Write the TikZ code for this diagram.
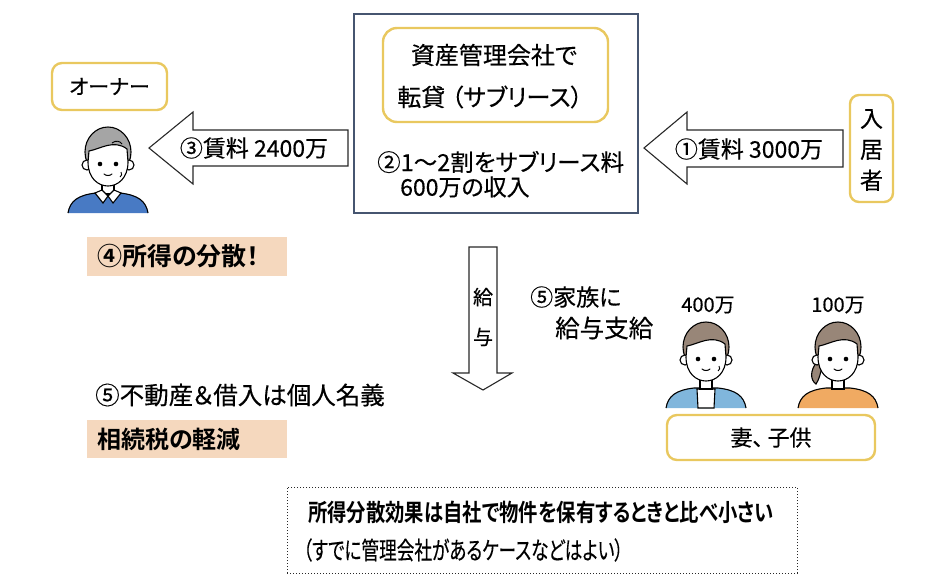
\documentclass[tikz,border=0pt]{standalone}
\usepackage{graphicx}
\usepackage{fontspec}
\setmainfont{Noto Sans CJK JP}[BoldFont={Noto Sans CJK JP Bold},RawFeature=+palt,UprightFeatures={FakeBold=0.35}]
\newcommand\myfs[1]{\fontsize{#1}{#1}\selectfont}
\definecolor{goldc}{RGB}{233,200,95}
\definecolor{boxblue}{RGB}{70,85,112}
\definecolor{peachc}{RGB}{245,216,190}
\definecolor{ownerblue}{RGB}{72,122,196}
\definecolor{grayhair}{RGB}{165,165,165}
\definecolor{brownhair}{RGB}{152,134,120}
\definecolor{lightblue}{RGB}{128,182,220}
\definecolor{orangec}{RGB}{240,170,98}
\definecolor{linec}{RGB}{40,40,40}
\begin{document}
\begin{tikzpicture}[x=1pt,y=-1pt,
  goldbox/.style={draw=goldc,line width=2.4pt,rounded corners=10pt,fill=white,inner sep=0pt},
  peachbox/.style={fill=peachc,inner sep=0pt},
  blockarrow/.style={draw=linec,line width=1.1pt,fill=white,line join=miter},
  txt/.style={inner sep=0pt,text=black},
  ink/.style={draw=black,line width=1.1pt},
  pics/head/.style={code={
    \fill[#1,ink] (0,25) ellipse [x radius=23,y radius=25];
    \fill[white,ink] (-21,38) circle [radius=5];
    \fill[white,ink] (21,38) circle [radius=5];
    \fill[white,ink] (-19,24) .. controls (-8,22) and (6,12) .. (19,22) -- (20,35) .. controls (20,51) and (10,59) .. (0,59) .. controls (-10,59) and (-20,51) .. (-20,35) -- cycle;
    \fill[black] (-8,37) circle [radius=2.3];
    \fill[black] (8,37) circle [radius=2.3];
    \draw[black,line width=1pt,line cap=round] (-4,47) .. controls (-2,49) and (2,49) .. (4,47);
  }}
]
\useasboundingbox (0,0) rectangle (952,584);

% ---------- owner ----------
\node[goldbox,minimum width=115pt,minimum height=47pt] (ownerlbl) at (109.5,86.5) {};
\node[txt,font=\myfs{21}] (ownertxt) at (ownerlbl.center) {オーナー};
\begin{scope}[shift={(108,127)}]
  \fill[ownerblue,ink] (-40,86) .. controls (-38,74) and (-30,68) .. (-12,66) -- (12,66) .. controls (30,68) and (38,74) .. (40,86);
  \fill[white,ink] (-6,54) rectangle (6,67);
  \fill[white,ink] (-13,66) -- (-5,76) -- (0,69) -- (5,76) -- (13,66) -- (6,63) -- (0,69) -- (-6,63) -- cycle;
  \pic {head=grayhair};
  \draw[black,line width=0.9pt] (4,16) .. controls (8,13) and (12,14) .. (14,17);
  \draw[black,line width=0.9pt] (13,45) .. controls (14,47) and (14,49) .. (12,50);
\end{scope}

% ---------- central box ----------
\node[draw=boxblue,line width=1.8pt,fill=white,minimum width=284pt,minimum height=199pt,inner sep=0pt] (company) at (496,113.5) {};
\node[goldbox,rounded corners=14pt,minimum width=225pt,minimum height=94pt] (sublease) at (495.5,75) {};
\node[txt,font=\myfs{24}] (sl1) at (494,55) {資産管理会社で};
\node[txt,font=\myfs{24}] (sl2) at (490,97) {転貸\hspace{6pt}（サブリース）};
\node[txt,font=\myfs{23.5},anchor=west] (fee1) at (377,162) {②1～2割をサブリース料};
\node[txt,font=\myfs{23},anchor=west] (fee2) at (400,187) {600万の収入};

% ---------- tenant ----------
\node[goldbox,rounded corners=9pt,minimum width=43pt,minimum height=107pt] (tenant) at (871.5,148.5) {};
\node[txt,font=\fontsize{23}{31}\selectfont,align=center] (tenanttxt) at (871.5,150) {入\\居\\者};

% ---------- block arrows ----------
\draw[blockarrow] (149,148) -- (193,112) -- (193,130) -- (348,130) -- (348,166) -- (193,166) -- (193,184) -- cycle;
\node[txt,font=\myfs{23}] (rent2) at (254,148) {③賃料 2400万};
\draw[blockarrow] (644,148) -- (687,112) -- (687,130) -- (843,130) -- (843,167) -- (687,167) -- (687,184) -- cycle;
\node[txt,font=\myfs{23}] (rent1) at (749,149) {①賃料 3000万};
\draw[blockarrow] (469,247) -- (497,247) -- (497,373) -- (512,373) -- (483,390) -- (453,373) -- (469,373) -- cycle;
\node[txt,font=\fontsize{20}{40}\selectfont,align=center] (salary) at (483,317) {給\\与};

% ---------- left notes ----------
\node[peachbox,minimum width=200pt,minimum height=39pt] (note4) at (187,256.5) {};
\node[txt,font=\bfseries\myfs{25},anchor=west] (note4t) at (97,256) {④所得の分散！};
\node[txt,font=\myfs{24.5},anchor=west] (note5) at (95,395) {⑤不動産＆借入は個人名義};
\node[peachbox,minimum width=200pt,minimum height=38pt] (note6) at (187,439) {};
\node[txt,font=\bfseries\myfs{24},anchor=west] (note6t) at (97,439) {相続税の軽減};

% ---------- family ----------
\node[txt,font=\myfs{23},anchor=west] (fam1) at (530,297) {⑤家族に};
\node[txt,font=\myfs{24.5},anchor=west] (fam2) at (555,328) {給与支給};
\node[txt,font=\myfs{20}] (wifeamt) at (708,305) {400万};
\node[txt,font=\myfs{20}] (childamt) at (838,305) {100万};
\begin{scope}[shift={(706,322)}]
  \fill[lightblue,ink] (-40,86) .. controls (-38,74) and (-30,68) .. (-12,66) -- (12,66) .. controls (30,68) and (38,74) .. (40,86);
  \fill[white,ink] (-9,67) -- (-8,86) -- (8,86) -- (9,67) -- cycle;
  \fill[white,ink] (-6,54) rectangle (6,67);
  \pic {head=brownhair};
  \draw[black,line width=0.9pt] (13,44) .. controls (14,46) and (14,48) .. (12,49);
\end{scope}
\begin{scope}[shift={(838,322)}]
  \fill[orangec,ink] (-40,86) .. controls (-38,74) and (-30,68) .. (-12,66) -- (12,66) .. controls (30,68) and (38,74) .. (40,86);
  \fill[white,ink] (-6,54) rectangle (6,67);
  \fill[brownhair,ink] (-21,40) .. controls (-28,48) and (-28,58) .. (-22,62) .. controls (-19,58) and (-17,50) .. (-16,44) -- cycle;
  \pic {head=brownhair};
\end{scope}
\node[goldbox,minimum width=208pt,minimum height=45pt] (family) at (771,437.5) {};
\node[txt,font=\myfs{22}] (familyt) at (771,437.5) {妻、\hspace{4pt}子供};

% ---------- bottom note ----------
\node[draw=linec,line width=1pt,dotted,minimum width=510pt,minimum height=86pt,inner sep=0pt] (caveat) at (542,530) {};
\node[txt,font=\bfseries\myfs{24},anchor=west] (cav1) at (308,512) {\scalebox{0.806}[1]{所得分散効果は自社で物件を保有するときと比べ小さい}};
\node[txt,font=\myfs{24.5},anchor=west] (cav2) at (303,550) {\scalebox{0.72}[1]{（すでに管理会社があるケースなどはよい）}};
\end{tikzpicture}
\end{document}
